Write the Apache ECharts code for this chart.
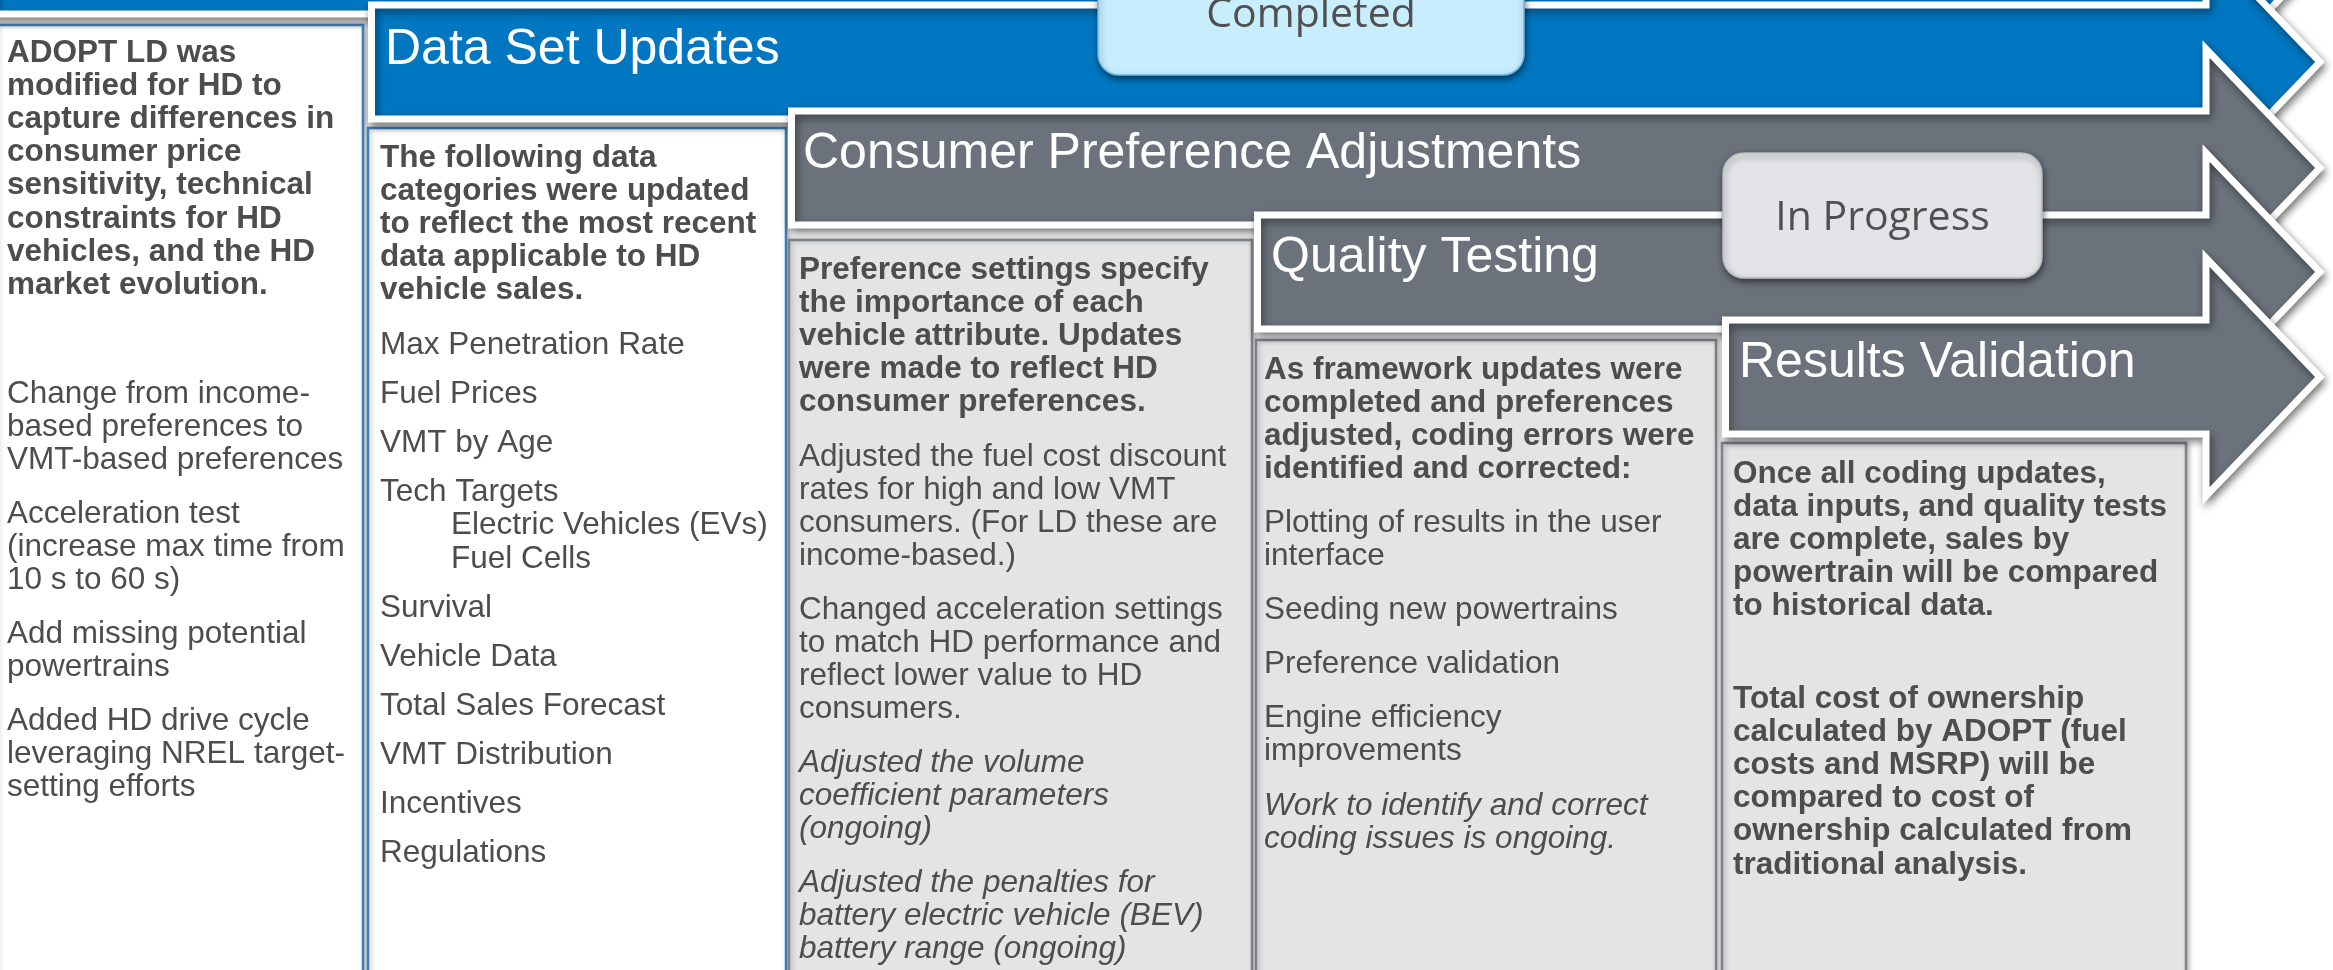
<!DOCTYPE html>
<html>
<head>
<meta charset="utf-8">
<title>ADOPT HD update progress</title>
<script src="https://cdn.jsdelivr.net/npm/echarts@6/dist/echarts.min.js"></script>
<style>
    html, body { margin: 0; padding: 0; background: #ffffff; }
    #main { width: 2333px; height: 970px; }
</style>
</head>
<body>
<div id="main"></div>
<script>
// ---- content ----
var stageTitles = ['Data Set Updates', 'Consumer Preference Adjustments', 'Quality Testing', 'Results Validation'];
var statusLabels = ['Completed', 'In Progress'];

var introHeading = ['ADOPT LD was', 'modified for HD to', 'capture differences in', 'consumer price',
    'sensitivity, technical', 'constraints for HD', 'vehicles, and the HD', 'market evolution.'];
var introNotes = [
    ['Change from income-', 'based preferences to', 'VMT-based preferences'],
    ['Acceleration test', '(increase max time from', '10 s to 60 s)'],
    ['Add missing potential', 'powertrains'],
    ['Added HD drive cycle', 'leveraging NREL target-', 'setting efforts']
];

var dataHeading = ['The following data', 'categories were updated', 'to reflect the most recent',
    'data applicable to HD', 'vehicle sales.'];
var dataCategories = ['Max Penetration Rate', 'Fuel Prices', 'VMT by Age', 'Tech Targets', 'Survival',
    'Vehicle Data', 'Total Sales Forecast', 'VMT Distribution', 'Incentives', 'Regulations'];
var techTargetTypes = ['Electric Vehicles (EVs)', 'Fuel Cells'];

var prefHeading = ['Preference settings specify', 'the importance of each', 'vehicle attribute. Updates',
    'were made to reflect HD', 'consumer preferences.'];
var prefDone = [
    ['Adjusted the fuel cost discount', 'rates for high and low VMT', 'consumers. (For LD these are', 'income-based.)'],
    ['Changed acceleration settings', 'to match HD performance and', 'reflect lower value to HD', 'consumers.']
];
var prefOngoing = [
    ['Adjusted the volume', 'coefficient parameters', '(ongoing)'],
    ['Adjusted the penalties for', 'battery electric vehicle (BEV)', 'battery range (ongoing)']
];

var qualityHeading = ['As framework updates were', 'completed and preferences', 'adjusted, coding errors were',
    'identified and corrected:'];
var qualityItems = [
    ['Plotting of results in the user', 'interface'],
    ['Seeding new powertrains'],
    ['Preference validation'],
    ['Engine efficiency', 'improvements']
];
var qualityNote = ['Work to identify and correct', 'coding issues is ongoing.'];

var resultsText = [
    ['Once all coding updates,', 'data inputs, and quality tests', 'are complete, sales by',
        'powertrain will be compared', 'to historical data.'],
    ['Total cost of ownership', 'calculated by ADOPT (fuel', 'costs and MSRP) will be',
        'compared to cost of', 'ownership calculated from', 'traditional analysis.']
];

// ---- layout ----
var BODY_FONT = '"Liberation Sans", Arial, sans-serif';
var BADGE_FONT = '"Open Sans", "Noto Sans", sans-serif';
var INK = '#4d4d4d';
var BLUE = '#0077c0';
var SLATE = '#6b727b';

var arrowCy = [-43, 62, 168, 272, 377];
var arrowLeft = [-10, 368, 788, 1254, 1722];
var arrowColor = [BLUE, BLUE, SLATE, SLATE, SLATE];
var arrowBack = 2206, arrowTip = 2320, bodyHalf = 57, headHalf = 119;

var boxLeft = [-4, 368, 789, 1256, 1722];
var boxRight = [363, 786, 1252, 1716, 2186];
var boxTop = [25, 128, 240, 340, 443];

var BOLD_LH = 33.2, REG_LH = 33;
var TEXT_NUDGE = 3;

function textBlock(lines, x, yc, lh, weight, style) {
    return {
        type: 'text', z: 50,
        style: {
            text: lines.join('\n'), x: x, y: yc - lh / 2 + TEXT_NUDGE,
            fill: INK, fontFamily: BODY_FONT, fontSize: 31.5,
            fontWeight: weight, fontStyle: style,
            lineHeight: lh, align: 'left', verticalAlign: 'top'
        }
    };
}

// stacks paragraphs downward from the first line centre
function column(x, y, blocks) {
    var els = [];
    blocks.forEach(function (b) {
        var lh = b.bold ? BOLD_LH : REG_LH;
        els.push(textBlock(b.lines, x, y, lh, b.bold ? 'bold' : 'normal', b.italic ? 'italic' : 'normal'));
        y += b.lines.length * lh + (b.gap == null ? 21 : b.gap);
    });
    return els;
}

function arrow(i) {
    var cy = arrowCy[i], x0 = arrowLeft[i] + 3.5;
    return {
        type: 'polygon', z: 10 + i,
        shape: {
            points: [[x0, cy - bodyHalf], [arrowBack, cy - bodyHalf], [arrowBack, cy - headHalf],
                [arrowTip, cy], [arrowBack, cy + headHalf], [arrowBack, cy + bodyHalf], [x0, cy + bodyHalf]]
        },
        style: {
            fill: arrowColor[i], stroke: '#ffffff', lineWidth: 7, lineJoin: 'miter',
            shadowBlur: 8, shadowColor: 'rgba(0,0,0,0.45)', shadowOffsetX: 2, shadowOffsetY: 4
        }
    };
}

function box(i) {
    var light = i < 2;
    return {
        type: 'rect', z: 1,
        shape: {x: boxLeft[i], y: boxTop[i], width: boxRight[i] - boxLeft[i], height: 1100},
        style: {
            fill: light ? '#ffffff' : '#e4e4e4',
            stroke: light ? '#3f7fbf' : '#7d8288', lineWidth: 2.5,
            shadowBlur: 5, shadowColor: 'rgba(0,0,0,0.25)', shadowOffsetX: 2
        }
    };
}

var titleX = [385, 803, 1271, 1739];
var titleY = [50, 154, 258, 363];

function badge(label, x, y, w, h, fill, stroke) {
    return [{
        type: 'rect', z: 30,
        shape: {x: x, y: y, width: w, height: h, r: 21},
        style: {
            fill: fill, stroke: stroke, lineWidth: 1.5,
            shadowBlur: 6, shadowColor: 'rgba(0,0,0,0.5)', shadowOffsetX: 1, shadowOffsetY: 3
        }
    }, {
        type: 'text', z: 31,
        style: {
            text: label, x: x + w / 2, y: y + h / 2 + 3, align: 'center', verticalAlign: 'middle',
            fill: '#505050', fontFamily: BADGE_FONT, fontSize: 41
        }
    }];
}

var elements = [];
[0, 1, 2, 3, 4].forEach(function (i) { elements.push(box(i)); });
[0, 1, 2, 3, 4].forEach(function (i) { elements.push(arrow(i)); });
stageTitles.forEach(function (t, i) {
    elements.push({
        type: 'text', z: 20,
        style: {
            text: t, x: titleX[i], y: titleY[i], align: 'left', verticalAlign: 'middle',
            fill: '#ffffff', fontFamily: BODY_FONT, fontSize: 50
        }
    });
});
elements = elements.concat(badge(statusLabels[0], 1098, -50, 426, 125, '#c8eefd', '#6fb8e3'));
elements = elements.concat(badge(statusLabels[1], 1723, 153, 319, 125, '#e2e4e7', '#b9bdc2'));

// intro box
elements = elements.concat(column(7, 50, [{lines: introHeading, bold: true, gap: 76}]
    .concat(introNotes.map(function (p) { return {lines: p}; }))));

// data set box
elements = elements.concat(column(380, 155, [{lines: dataHeading, bold: true, gap: 21}]));
var catY = 342;
dataCategories.forEach(function (c) {
    elements.push(textBlock([c], 380, catY, REG_LH, 'normal', 'normal'));
    if (c === 'Tech Targets') {
        elements.push(textBlock(techTargetTypes, 451, catY + 33.5, 33.5, 'normal', 'normal'));
        catY += techTargetTypes.length * 33.5;
    }
    catY += 49;
});

// preference box
elements = elements.concat(column(799, 267, [{lines: prefHeading, bold: true}]
    .concat(prefDone.map(function (p) { return {lines: p}; }))
    .concat(prefOngoing.map(function (p) { return {lines: p, italic: true}; }))));

// quality box
elements = elements.concat(column(1264, 367, [{lines: qualityHeading, bold: true}]
    .concat(qualityItems.map(function (p) { return {lines: p}; }))
    .concat([{lines: qualityNote, italic: true}])));

// results box
elements = elements.concat(column(1733, 471, [
    {lines: resultsText[0], bold: true, gap: 59},
    {lines: resultsText[1], bold: true}
]));

var chart = echarts.init(document.getElementById('main'), null, {renderer: 'canvas'});
chart.setOption({
    backgroundColor: '#ffffff',
    animation: false,
    graphic: {elements: elements}
});
window.onresize = chart.resize;
</script>
</body>
</html>
